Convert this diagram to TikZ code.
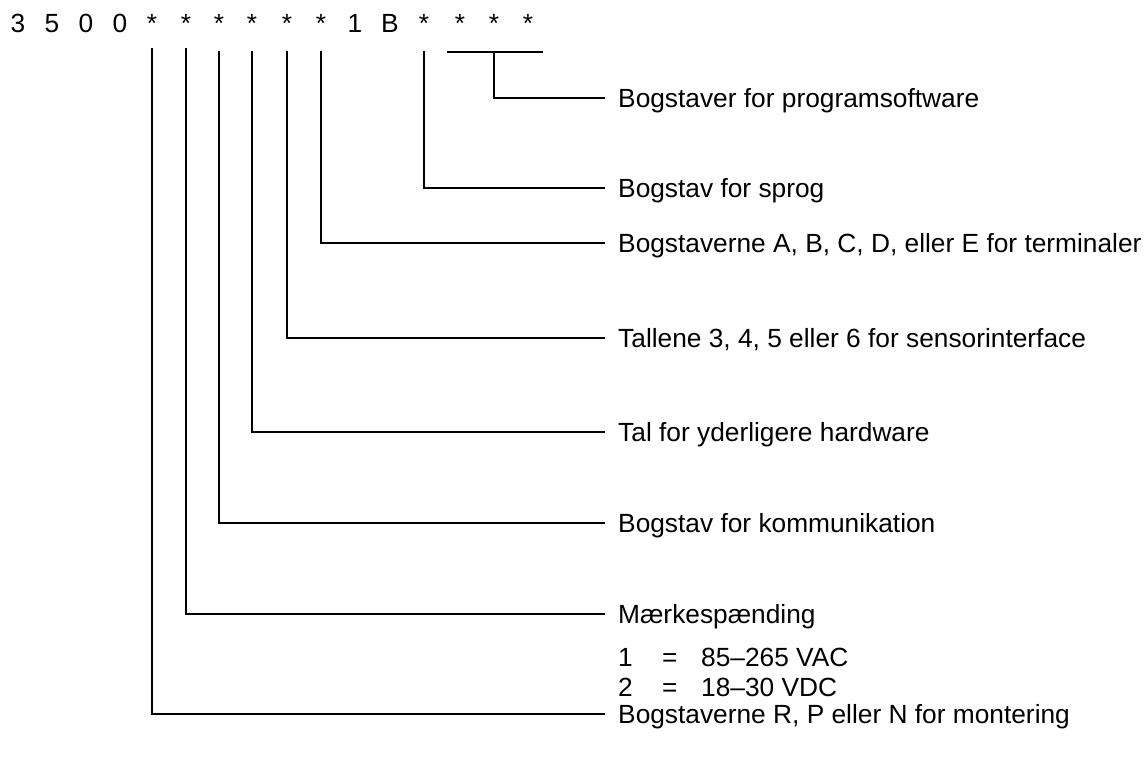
\documentclass[tikz,border=0pt]{standalone}
\usepackage{fontspec}
\setmainfont{Liberation Sans}
\begin{document}
\begin{tikzpicture}[x=1pt,y=-1pt,
  lbl/.style={anchor=west,inner sep=0pt,text height=19pt,text depth=0pt,font=\fontsize{26.3}{30}\selectfont},
  hd/.style={anchor=base,inner sep=0pt,font=\fontsize{26.3}{30}\selectfont},
  ln/.style={line width=2pt}]
\useasboundingbox (0,0) rectangle (1147,760);
% header characters
\foreach \c/\x [count=\i] in {3/18,5/52,0/86,0/120,*/152,*/186,*/219,*/252,*/287,*/321,1/355,B/390,*/424,*/460,*/494,*/528}
  \node[hd] (h\i) at (\x,33) {\c};
% label nodes
\node[lbl] (t1) at (618,98) {Bogstaver for programsoftware};
\node[lbl] (t2) at (618,188) {Bogstav for sprog};
\node[lbl] (t3) at (618,243) {Bogstaverne A, B, C, D, eller E for terminaler};
\node[lbl] (t4) at (618,338) {Tallene 3, 4, 5 eller 6 for sensorinterface};
\node[lbl] (t5) at (618,432) {Tal for yderligere hardware};
\node[lbl] (t6) at (618,523) {Bogstav for kommunikation};
\node[lbl] (t7) at (618,614) {Mærkespænding};
\node[lbl] (v1) at (618,657) {1};
\node[lbl] (e1) at (662,657) {=};
\node[lbl] (w1) at (701,657) {85--265 VAC};
\node[lbl] (v2) at (618,687) {2};
\node[lbl] (e2) at (662,687) {=};
\node[lbl] (w2) at (701,687) {18--30 VDC};
\node[lbl] (t8) at (618,714) {Bogstaverne R, P eller N for montering};
% bracket over last four
\coordinate (bl) at (447,52);
\coordinate (br) at (543,52);
\coordinate (bm) at (494,52);
\draw[ln] (bl) -- (br);
\draw[ln] (bm) |- ([xshift=-13pt]t1.west);
% connectors
\coordinate (c7) at (424,51);
\coordinate (c6) at (321,51);
\coordinate (c5) at (287,51);
\coordinate (c4) at (252,51);
\coordinate (c3) at (219,51);
\coordinate (c2) at (186,48);
\coordinate (c1) at (152,48);
\draw[ln] (c7) |- ([xshift=-13pt]t2.west);
\draw[ln] (c6) |- ([xshift=-13pt]t3.west);
\draw[ln] (c5) |- ([xshift=-13pt]t4.west);
\draw[ln] (c4) |- ([xshift=-13pt]t5.west);
\draw[ln] (c3) |- ([xshift=-13pt]t6.west);
\draw[ln] (c2) |- ([xshift=-13pt]t7.west);
\draw[ln] (c1) |- ([xshift=-13pt]t8.west);
\end{tikzpicture}
\end{document}
